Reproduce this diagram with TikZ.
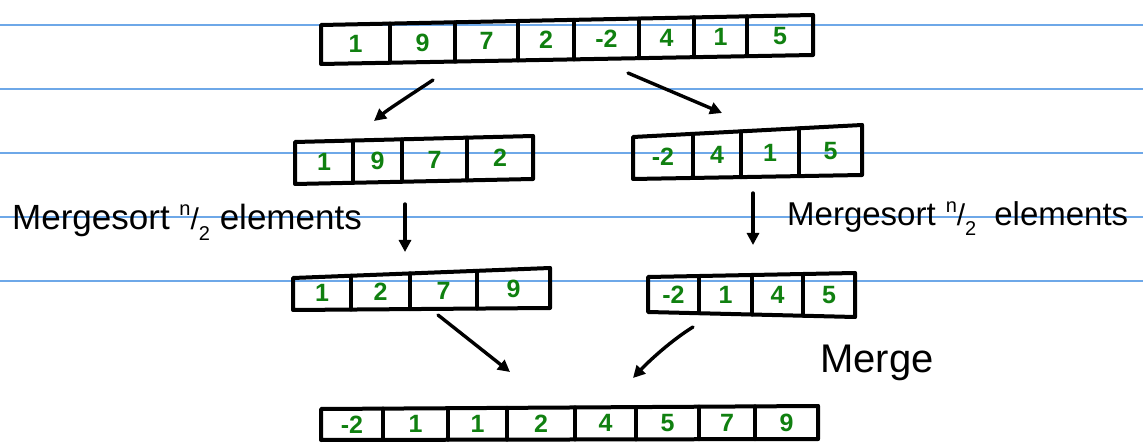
\documentclass[tikz,border=0pt]{standalone}
\usepackage{fontspec}
\setmainfont{Liberation Sans}
\usetikzlibrary{arrows.meta}
\definecolor{ruled}{RGB}{110,168,232}
\definecolor{numgreen}{RGB}{16,128,16}
\tikzset{
  box/.style={line width=4pt, line join=round, line cap=round, black},
  num/.style={text=numgreen, font=\fontsize{25}{25}\selectfont\bfseries, inner sep=0pt},
  ruleline/.style={ruled, line width=1.6pt},
  arr/.style={line width=3.4pt, line cap=round, -{Triangle[length=12pt,width=12pt]}},
  lbl/.style={font=\fontsize{35}{35}\selectfont, inner sep=0pt, anchor=base west},
}
\newcommand\nhalf{\raisebox{0.42em}{\fontsize{20}{20}\selectfont n}{\fontsize{30}{30}\selectfont/}\raisebox{-0.3em}{\fontsize{20}{20}\selectfont 2}}
\newcommand\marr[8]{%
  \draw[box] (#2,#4) -- (#3,#5) -- (#3,#7) -- (#2,#6) -- cycle;
  \foreach \xa/\xb/\lab [count=\i] in {#8} {
    \pgfmathsetmacro\tb{(\xb-#2)/(#3-#2)}
    \pgfmathsetmacro\tyb{#4+\tb*(#5-#4)}
    \pgfmathsetmacro\byb{#6+\tb*(#7-#6)}
    \draw[box] (\xb,\tyb) -- (\xb,\byb);
    \pgfmathsetmacro\cx{(\xa+\xb)/2}
    \pgfmathsetmacro\tc{(\cx-#2)/(#3-#2)}
    \pgfmathsetmacro\cy{(#4+\tc*(#5-#4)+#6+\tc*(#7-#6))/2}
    \node[num] (#1-\i) at (\cx,\cy) {\lab};
  }
}
\begin{document}
\begin{tikzpicture}[x=1pt,y=-1pt]
\useasboundingbox (0,0) rectangle (1143,443);
\foreach \y in {25,89,153,217,281} \draw[ruleline] (0,\y) -- (1143,\y);

% arrays
\marr{top}{321}{813}{25}{15}{64}{55}{321/390/1,390/455/9,455/518/7,518/574/2,574/639/-2,639/694/4,694/747/1,747/813/5}
\marr{la}{295}{533}{142}{136}{184}{179}{295/353/1,353/402/9,402/467/7,467/533/2}
\marr{ra}{633}{862}{137}{125}{179}{175}{633/693/-2,693/741/4,741/799/1,799/862/5}
\marr{ls}{293}{550}{278}{268}{310}{308}{293/351/1,351/410/2,410/477/7,477/550/9}
\marr{rs}{648}{855}{277}{273}{312}{317}{648/699/-2,699/752/1,752/803/4,803/855/5}
\marr{bot}{321}{818}{409}{406}{440}{439}{321/383/-2,383/448/1,448/507/1,507/575/2,575/636/4,636/699/5,699/755/7,755/818/9}

% arrow end points
\coordinate (a1s) at (433,80);  \coordinate (a1e) at (374,121);
\coordinate (a2s) at (628,73);  \coordinate (a2e) at (722,113);
\coordinate (a3s) at (405,204); \coordinate (a3e) at (405,252);
\coordinate (a4s) at (753,193); \coordinate (a4e) at (753,245);
\coordinate (a5s) at (438,315); \coordinate (a5e) at (510,372);
\coordinate (a6s) at (693,327); \coordinate (a6e) at (633,378);

\draw[arr] (a1s) .. controls (412,94) and (390,108) .. (a1e);
\draw[arr] (a2s) -- (a2e);
\draw[arr] (a3s) -- (a3e);
\draw[arr] (a4s) -- (a4e);
\draw[arr] (a5s) -- (a5e);
\draw[arr] (a6s) .. controls (672,340) and (650,360) .. (a6e);

% labels
\node[lbl] (ltxt) at (12,230) {Mergesort \nhalf\ elements};
\node[lbl, font=\fontsize{33}{33}\selectfont] (rtxt) at (787,226) {Mergesort\hspace{10pt}\nhalf\hspace{18pt}elements};
\node[lbl, font=\fontsize{40}{40}\selectfont] (merge) at (820,373) {Merge};
\end{tikzpicture}
\end{document}
